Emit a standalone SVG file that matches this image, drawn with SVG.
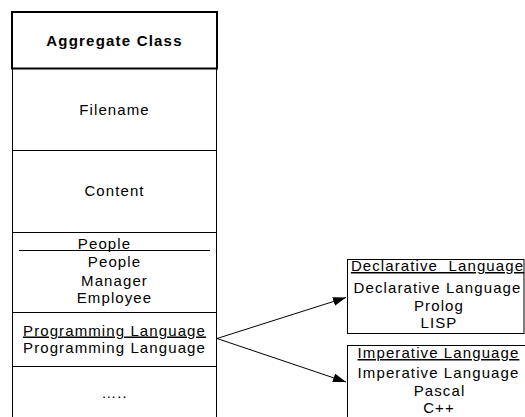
<svg xmlns="http://www.w3.org/2000/svg" width="525" height="417" viewBox="0 0 525 417">
  <style>
    .t { font-family: "Liberation Sans", Arial, sans-serif; font-size: 15px; letter-spacing: 1.1px; fill: #000; text-anchor: middle; }
    .b { font-weight: bold; letter-spacing: 1.2px; }
    .u { text-decoration: underline; white-space: pre; }
    .frame { fill: none; stroke: #000; stroke-width: 1; }
    .div { stroke: #000; stroke-width: 1; }
    .conn { stroke: #000; stroke-width: 1; fill: none; }
  </style>
  <defs>
    <marker id="arrow" markerUnits="userSpaceOnUse" markerWidth="14" markerHeight="10" refX="13" refY="4.5" orient="auto">
      <path d="M0,0 L13,4.5 L0,9 z" fill="#000"/>
    </marker>
  </defs>
  <rect width="525" height="417" fill="#fff"/>

  <!-- Aggregate class with its compartments -->
  <g id="aggregate-class">
    <rect x="12" y="12" width="205" height="56.5" fill="#fff" stroke="#000" stroke-width="2"/>
    <text class="t b" x="114.5" y="45.5">Aggregate Class</text>
    <path class="div" d="M12.5,68 V420 M216.5,68 V420"/>
  </g>

  <g id="filename">
    <text class="t" x="114.5" y="115">Filename</text>
    <line class="div" x1="12" y1="150.5" x2="217" y2="150.5" stroke="#444"/>
  </g>

  <g id="content">
    <text class="t" x="114.5" y="195.5">Content</text>
    <line class="div" x1="12" y1="232.5" x2="217" y2="232.5"/>
  </g>

  <g id="people">
    <text class="t" x="104.5" y="249">People</text>
    <line class="div" x1="19" y1="250.5" x2="210" y2="250.5"/>
    <text class="t" x="114.5" y="266.5">People</text>
    <text class="t" x="114.5" y="285.5">Manager</text>
    <text class="t" x="114.5" y="303">Employee</text>
    <line class="div" x1="12" y1="312.5" x2="217" y2="312.5"/>
  </g>

  <g id="programming-language">
    <text class="t u" x="114.5" y="335.5">Programming Language</text>
    <text class="t" x="114.5" y="353">Programming Language</text>
    <line class="div" x1="12" y1="366.5" x2="217" y2="366.5" stroke="#444"/>
  </g>

  <g id="more">
    <text class="t" x="114.5" y="397.5">…..</text>
  </g>

  <!-- Specialisations of Programming Language -->
  <g id="declarative-language">
    <rect class="frame" x="347.5" y="259.5" width="176.5" height="74"/>
    <text class="t u" x="437.5" y="271">Declarative  Language</text>
    <text class="t" x="437.5" y="293">Declarative Language</text>
    <text class="t" x="439" y="310.5">Prolog</text>
    <text class="t" x="439" y="328">LISP</text>
  </g>

  <g id="imperative-language">
    <rect class="frame" x="347.5" y="345.5" width="185" height="80"/>
    <text class="t u" x="438.5" y="358">Imperative Language</text>
    <text class="t" x="438.5" y="378">Imperative Language</text>
    <text class="t" x="439.5" y="395.5">Pascal</text>
    <text class="t" x="439" y="413">C++</text>
  </g>

  <g id="connectors">
    <line class="conn" x1="217" y1="338.5" x2="346" y2="297.5" marker-end="url(#arrow)"/>
    <line class="conn" x1="217" y1="338.5" x2="346" y2="382" marker-end="url(#arrow)"/>
  </g>
</svg>
